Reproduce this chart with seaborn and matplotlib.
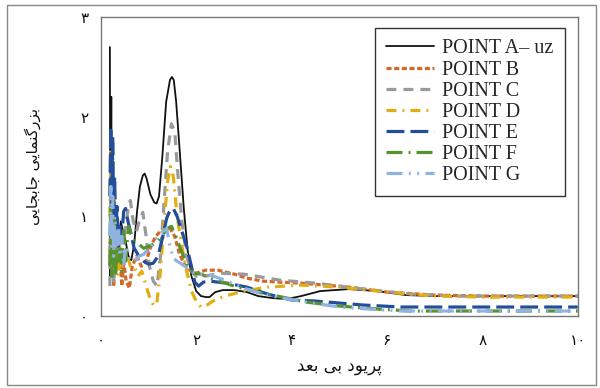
import numpy as np
import pandas as pd
import matplotlib
matplotlib.use("Agg")
import matplotlib.pyplot as plt
import seaborn as sns
from matplotlib.patches import Rectangle

# ---------------- data ----------------
a_x = [0.19,0.20,0.22,0.23,0.25,0.27,0.29,0.31,0.34,0.38,0.42,0.46,0.52,0.58,0.64,0.70,0.76,0.82,0.88,0.92,0.96,1.04,1.12,1.17,1.22,1.29,1.37,1.45,1.49,1.53,1.58,1.66,1.74,1.82,1.90,2.00,2.10,2.20,2.28,2.40,2.56,2.80,3.06,3.30,3.60,3.90,4.20,4.60,5.20,5.80,6.40,7.00,8.00,9.00,10.0]
a_y = [2.70,0.40,2.20,0.60,1.60,0.50,1.20,0.70,0.95,0.75,0.95,0.86,0.75,0.60,0.56,0.72,1.05,1.30,1.41,1.43,1.38,1.22,1.14,1.13,1.20,1.60,2.15,2.37,2.40,2.37,2.15,1.62,1.08,0.66,0.40,0.25,0.20,0.19,0.19,0.24,0.26,0.26,0.24,0.20,0.18,0.17,0.20,0.25,0.27,0.25,0.21,0.20,0.20,0.20,0.20]

b_x = [0.19,0.21,0.23,0.25,0.27,0.29,0.31,0.34,0.37,0.40,0.44,0.48,0.53,0.60,0.66,0.75,0.85,0.95,1.05,1.15,1.25,1.35,1.45,1.55,1.65,1.75,1.87,2.00,2.20,2.45,2.80,3.06,3.40,3.75,4.20,5.20,6.00,7.00,8.00,10.0]
b_y = [0.50,1.30,0.40,1.00,0.30,0.80,0.45,0.90,0.50,0.70,0.30,0.55,0.35,0.28,0.50,0.60,0.50,0.55,0.70,0.80,0.85,0.88,0.88,0.80,0.62,0.52,0.46,0.43,0.46,0.46,0.42,0.38,0.35,0.34,0.33,0.29,0.24,0.21,0.20,0.20]

c_x = [0.19,0.21,0.23,0.25,0.27,0.29,0.32,0.35,0.38,0.42,0.47,0.52,0.58,0.62,0.68,0.75,0.82,0.88,0.95,1.02,1.10,1.18,1.25,1.32,1.40,1.48,1.55,1.62,1.70,1.80,1.90,2.00,2.20,2.50,3.00,3.75,4.50,5.50,6.50,7.50,10.0]
c_y = [0.30,1.50,0.50,1.20,0.35,0.90,0.60,0.85,0.60,0.90,0.75,0.90,1.10,1.16,0.95,0.85,0.98,1.04,0.80,0.50,0.35,0.30,0.60,1.10,1.65,1.93,1.85,1.40,0.95,0.60,0.45,0.40,0.40,0.43,0.42,0.36,0.33,0.27,0.22,0.20,0.20]

d_x = [0.19,0.21,0.23,0.25,0.27,0.29,0.31,0.34,0.37,0.40,0.44,0.50,0.56,0.62,0.70,0.78,0.86,0.95,1.05,1.12,1.18,1.25,1.32,1.40,1.46,1.52,1.60,1.70,1.80,1.90,2.00,2.10,2.20,2.35,2.60,3.00,3.50,4.20,5.00,6.00,7.00,8.00,10.0]
d_y = [1.00,1.80,0.80,1.60,0.60,1.30,0.50,1.00,0.40,0.80,0.50,0.70,0.60,0.50,0.50,0.40,0.45,0.30,0.15,0.10,0.15,0.45,0.90,1.35,1.50,1.40,1.00,0.70,0.45,0.25,0.15,0.09,0.10,0.15,0.20,0.25,0.29,0.31,0.29,0.24,0.20,0.19,0.19]

e_x = [0.19,0.21,0.23,0.25,0.27,0.29,0.31,0.34,0.37,0.40,0.44,0.48,0.52,0.57,0.62,0.70,0.80,0.90,1.00,1.10,1.20,1.30,1.38,1.45,1.52,1.60,1.70,1.80,1.90,1.97,2.05,2.15,2.30,2.45,2.64,3.06,3.50,4.00,4.50,5.50,6.30,7.00,10.0]
e_y = [1.20,1.90,1.00,1.80,0.90,1.40,0.80,1.10,0.70,0.90,0.80,1.05,1.08,0.95,0.85,0.68,0.60,0.55,0.52,0.53,0.60,0.80,0.98,1.06,1.08,1.00,0.85,0.70,0.50,0.34,0.30,0.34,0.35,0.34,0.33,0.29,0.22,0.16,0.15,0.11,0.09,0.09,0.09]

f_x = [0.19,0.21,0.23,0.25,0.27,0.29,0.31,0.34,0.37,0.40,0.44,0.48,0.52,0.58,0.65,0.72,0.80,0.90,1.00,1.10,1.20,1.30,1.40,1.48,1.56,1.65,1.75,1.85,1.95,2.10,2.30,2.80,3.30,3.80,4.30,5.00,5.80,6.50,10.0]
f_y = [0.50,1.10,0.40,0.90,0.50,1.00,0.40,0.80,0.55,0.75,0.45,0.85,0.55,0.90,0.80,0.75,0.72,0.68,0.70,0.72,0.75,0.82,0.88,0.90,0.82,0.70,0.58,0.48,0.43,0.42,0.38,0.30,0.24,0.19,0.14,0.10,0.07,0.05,0.05]

g_x = [0.19,0.21,0.23,0.25,0.27,0.29,0.31,0.34,0.37,0.40,0.44,0.48,0.52,0.58,0.65,0.72,0.80,0.90,1.00,1.10,1.20,1.30,1.38,1.45,1.52,1.60,1.70,1.85,2.00,2.30,2.60,3.00,3.40,3.80,4.30,5.00,5.60,6.30,10.0]
g_y = [0.80,1.30,0.70,1.20,0.60,1.00,0.90,0.70,0.90,0.60,0.80,0.50,0.70,0.60,0.55,0.55,0.60,0.62,0.68,0.73,0.80,0.85,0.88,0.70,0.58,0.55,0.52,0.47,0.42,0.41,0.36,0.28,0.22,0.18,0.14,0.09,0.07,0.05,0.05]

series_names = ["POINT A\u2013 uz", "POINT B", "POINT C", "POINT D", "POINT E", "POINT F", "POINT G"]
series_x = [a_x, b_x, c_x, d_x, e_x, f_x, g_x]
series_y = [a_y, b_y, c_y, d_y, e_y, f_y, g_y]

x_ticks = [0, 2, 4, 6, 8, 10]
x_tick_labels = ["\u06F0", "\u06F2", "\u06F4", "\u06F6", "\u06F8", "\u06F1\u06F0"]
y_ticks = [0, 1, 2, 3]
y_tick_labels = ["\u06F0", "\u06F1", "\u06F2", "\u06F3"]

# Persian labels, pre-shaped (presentation forms, visual order)
x_label = "\uFEAA\uFECC\uFE91 \uFBFD\uFE91 \uFEA9\uFEEE\uFBFE\uFEAE\uFB58"          # پریود بی بعد
y_label = "\uFBFD\uFBFE\uFE8E\uFEA0\uFE91\uFE8E\uFE9F \uFBFD\uFBFE\uFE8E\uFEE4\uFEE8\uFB94\uFEAD\uFEB0\uFE91"  # بزرگنمایی جابجایی

# ---------------- style ----------------
colors = ["#111111", "#D2692A", "#9A9A9A", "#E3AE12", "#234E9C", "#56922E", "#8FB3E0"]
widths = [1.3, 2.3, 2.3, 2.3, 2.3, 2.3, 2.3]
styles = ["-", (0, (1.6, 0.8)), (0, (3.1, 2.2)), (0, (3.1, 1.9, 0.6, 1.9)),
          (0, (5.6, 1.9)), (0, (5.0, 1.9, 0.6, 1.9)), (0, (5.0, 2.0, 0.6, 2.0, 0.6, 2.0))]

sns.set_theme(style="white")
plt.rcParams['font.family'] = ['DejaVu Sans']

fig = plt.figure(figsize=(6.0, 3.88), dpi=100)
ax = fig.add_axes([0.168, 0.1856, 0.795, 0.770])

handles = []
for xs, ys, name, c, lw, ls in zip(series_x, series_y, series_names, colors, widths, styles):
    df = pd.DataFrame({"x": xs, "y": ys})
    sns.lineplot(data=df, x="x", y="y", ax=ax, color=c, linewidth=lw,
                 label=name, sort=False, estimator=None)
    line = ax.lines[-1]
    line.set_linestyle(ls)
    handles.append(line)

ax.set_xlim(0, 10)
ax.set_ylim(0, 3)
ax.set_xticks(x_ticks)
ax.set_xticklabels(x_tick_labels, fontsize=11)
ax.set_yticks(y_ticks)
ax.set_yticklabels(y_tick_labels, fontsize=11)
ax.tick_params(axis="both", direction="out", length=5, width=1, color="#777777", labelcolor="#111111")
ax.tick_params(axis="x", pad=7)
ax.tick_params(axis="y", pad=4)
for sp in ax.spines.values():
    sp.set_color("#777777")
    sp.set_linewidth(1.0)

ax.set_xlabel(x_label, fontsize=12, labelpad=7, color="#111111")
ax.set_ylabel(y_label, fontsize=11, labelpad=28, color="#111111")

leg = ax.legend(handles=handles, labels=series_names, loc="upper right",
                bbox_to_anchor=(0.973, 0.963), borderaxespad=0, frameon=True,
                fancybox=False, edgecolor="#333333", framealpha=1,
                prop={"family": "Liberation Serif", "size": 14.5},
                handlelength=2.4, handletextpad=0.4, labelspacing=0.1,
                borderpad=0.55)
leg.get_frame().set_linewidth(1.0)

fig.patches.append(Rectangle((0.0117, 0.0077), 0.982, 0.979, transform=fig.transFigure,
                             fill=False, edgecolor="#888888", linewidth=1.0))

fig.savefig("out.png", dpi=100)
